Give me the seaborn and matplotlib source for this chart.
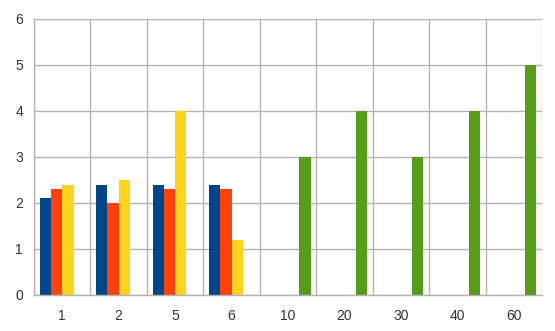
import matplotlib
matplotlib.use("Agg")
import matplotlib.pyplot as plt
import seaborn as sns
import pandas as pd
import numpy as np

categories = ["1", "2", "5", "6", "10", "20", "30", "40", "60"]
series_names = ["A", "B", "C", "D"]
blue_vals = [2.1, 2.4, 2.4, 2.4]
orange_vals = [2.3, 2.0, 2.3, 2.3]
yellow_vals = [2.4, 2.5, 4.0, 1.2]
green_cats = ["10", "20", "30", "40", "60"]
green_vals = [3, 4, 3, 4, 5]
colors = ["#004586", "#ff420e", "#ffd320", "#579d1c"]

rows = []
for c, v in zip(categories[:4], blue_vals):
    rows.append((c, "A", v))
for c, v in zip(categories[:4], orange_vals):
    rows.append((c, "B", v))
for c, v in zip(categories[:4], yellow_vals):
    rows.append((c, "C", v))
for c, v in zip(green_cats, green_vals):
    rows.append((c, "D", v))
df = pd.DataFrame(rows, columns=["cat", "series", "value"])

sns.set_style("white")
plt.rcParams["font.family"] = ["Liberation Sans", "DejaVu Sans"]

fig = plt.figure(figsize=(5.55, 3.31), dpi=100)
ax = fig.add_axes([34 / 555, 36 / 331, 508 / 555, 276 / 331])

sns.barplot(data=df, x="cat", y="value", hue="series", order=categories,
            hue_order=series_names, palette=colors, width=0.8, dodge=True,
            saturation=1, ax=ax, legend=False, errorbar=None, linewidth=0)

grid_c = "#b3b3b3"
ax.set_xlim(-0.5, len(categories) - 0.5)
ax.set_ylim(0, 6)
ax.set_yticks(range(0, 7))
ax.set_xticks(range(len(categories)))
ax.set_xticklabels(categories)
ax.set_xticks(np.arange(-0.5, len(categories), 1.0), minor=True)
ax.set_xlabel("")
ax.set_ylabel("")
ax.set_axisbelow(True)
ax.grid(True, axis="y", which="major", color=grid_c, linewidth=1)
ax.grid(True, axis="x", which="minor", color=grid_c, linewidth=1)
ax.grid(False, axis="x", which="major")
ax.tick_params(axis="x", which="major", length=0, labelsize=10, colors="#333333", pad=10)
ax.tick_params(axis="x", which="minor", length=5, color=grid_c, width=1)
ax.tick_params(axis="y", which="major", length=5, color=grid_c, width=1,
               labelsize=10, labelcolor="#333333", pad=3)
for s in ["top", "right"]:
    ax.spines[s].set_visible(False)
for s in ["left", "bottom"]:
    ax.spines[s].set_color(grid_c)
    ax.spines[s].set_linewidth(1)

fig.savefig("out.png", dpi=100, facecolor="white")
